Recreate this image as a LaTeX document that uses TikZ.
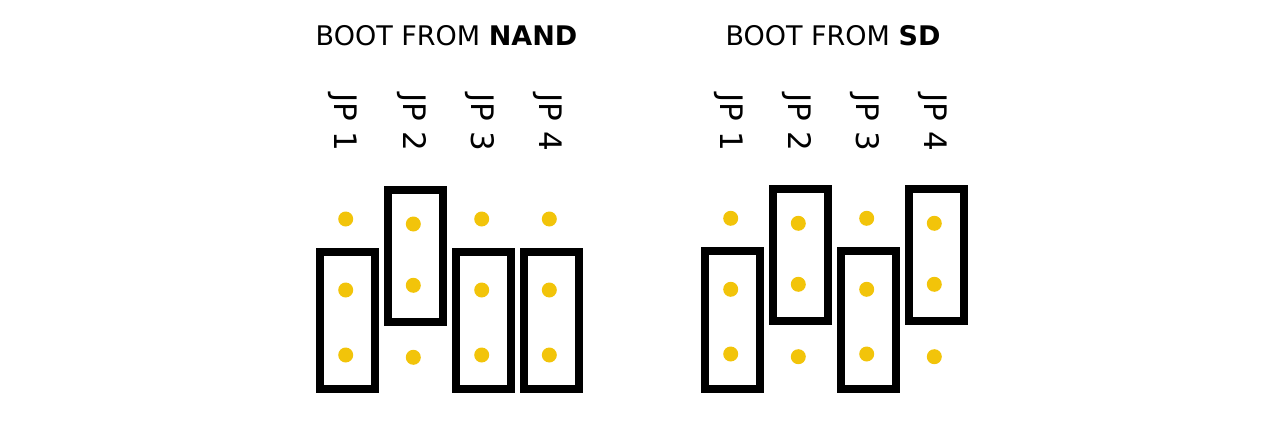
\documentclass[tikz,border=0pt]{standalone}
\usepackage{fontspec}
\setmainfont{DejaVu Sans}
\definecolor{pin}{RGB}{242,196,10}
\begin{document}
\begin{tikzpicture}[x=1pt,y=-1pt,
  pindot/.style={circle,fill=pin,inner sep=0pt,minimum size=15pt},
  jumper/.style={draw=black,line width=8pt,inner sep=0pt,outer sep=0pt,minimum width=55pt},
  lowjumper/.style={jumper,minimum height=137.5pt},
  highjumper/.style={jumper,minimum height=131.8pt},
  jplabel/.style={rotate=-90,font=\fontsize{31}{31}\selectfont,inner sep=0pt},
  title/.style={font=\fontsize{27}{27}\selectfont,inner sep=0pt}]
\useasboundingbox (0,0) rectangle (1280,423);
% titles
\node[title] (t1) at (446.5,36) {BOOT FROM \textbf{NAND}};
\node[title] (t2) at (833,36) {BOOT FROM \textbf{SD}};
% labels left
\node[jplabel] (l1) at (343,122.5) {JP 1};
\node[jplabel] (l2) at (411.5,122.5) {JP 2};
\node[jplabel] (l3) at (480,122.5) {JP 3};
\node[jplabel] (l4) at (548,122.5) {JP 4};
% labels right
\node[jplabel] (r1) at (728.5,122.5) {JP 1};
\node[jplabel] (r2) at (796.5,122.5) {JP 2};
\node[jplabel] (r3) at (865,122.5) {JP 3};
\node[jplabel] (r4) at (932.5,122.5) {JP 4};
% jumpers left
\node[lowjumper] (lj1) at (347.5,320.5) {};
\node[highjumper] (lj2) at (415.5,255.8) {};
\node[lowjumper] (lj3) at (483.5,320.5) {};
\node[lowjumper] (lj4) at (551.5,320.5) {};
% jumpers right
\node[lowjumper] (rj1) at (732.3,320) {};
\node[highjumper] (rj2) at (800.5,255) {};
\node[lowjumper] (rj3) at (868.5,320) {};
\node[highjumper] (rj4) at (936.5,255) {};
% pins left
\node[pindot] (la1) at (345.7,219) {};
\node[pindot] (lb1) at (345.7,290) {};
\node[pindot] (lc1) at (345.7,355) {};
\node[pindot] (la2) at (413.3,224) {};
\node[pindot] (lb2) at (413.3,285.3) {};
\node[pindot] (lc2) at (413.3,357.3) {};
\node[pindot] (la3) at (481.7,219) {};
\node[pindot] (lb3) at (481.7,290) {};
\node[pindot] (lc3) at (481.7,355) {};
\node[pindot] (la4) at (549.3,219) {};
\node[pindot] (lb4) at (549.3,290) {};
\node[pindot] (lc4) at (549.3,355) {};
% pins right
\node[pindot] (ra1) at (730.7,218.3) {};
\node[pindot] (rb1) at (730.7,289.3) {};
\node[pindot] (rc1) at (730.7,354) {};
\node[pindot] (ra2) at (798.3,223.3) {};
\node[pindot] (rb2) at (798.3,284.3) {};
\node[pindot] (rc2) at (798.3,356.7) {};
\node[pindot] (ra3) at (866.7,218.3) {};
\node[pindot] (rb3) at (866.7,289.3) {};
\node[pindot] (rc3) at (866.7,354) {};
\node[pindot] (ra4) at (934.3,223.3) {};
\node[pindot] (rb4) at (934.3,284.3) {};
\node[pindot] (rc4) at (934.3,356.7) {};
\end{tikzpicture}
\end{document}
